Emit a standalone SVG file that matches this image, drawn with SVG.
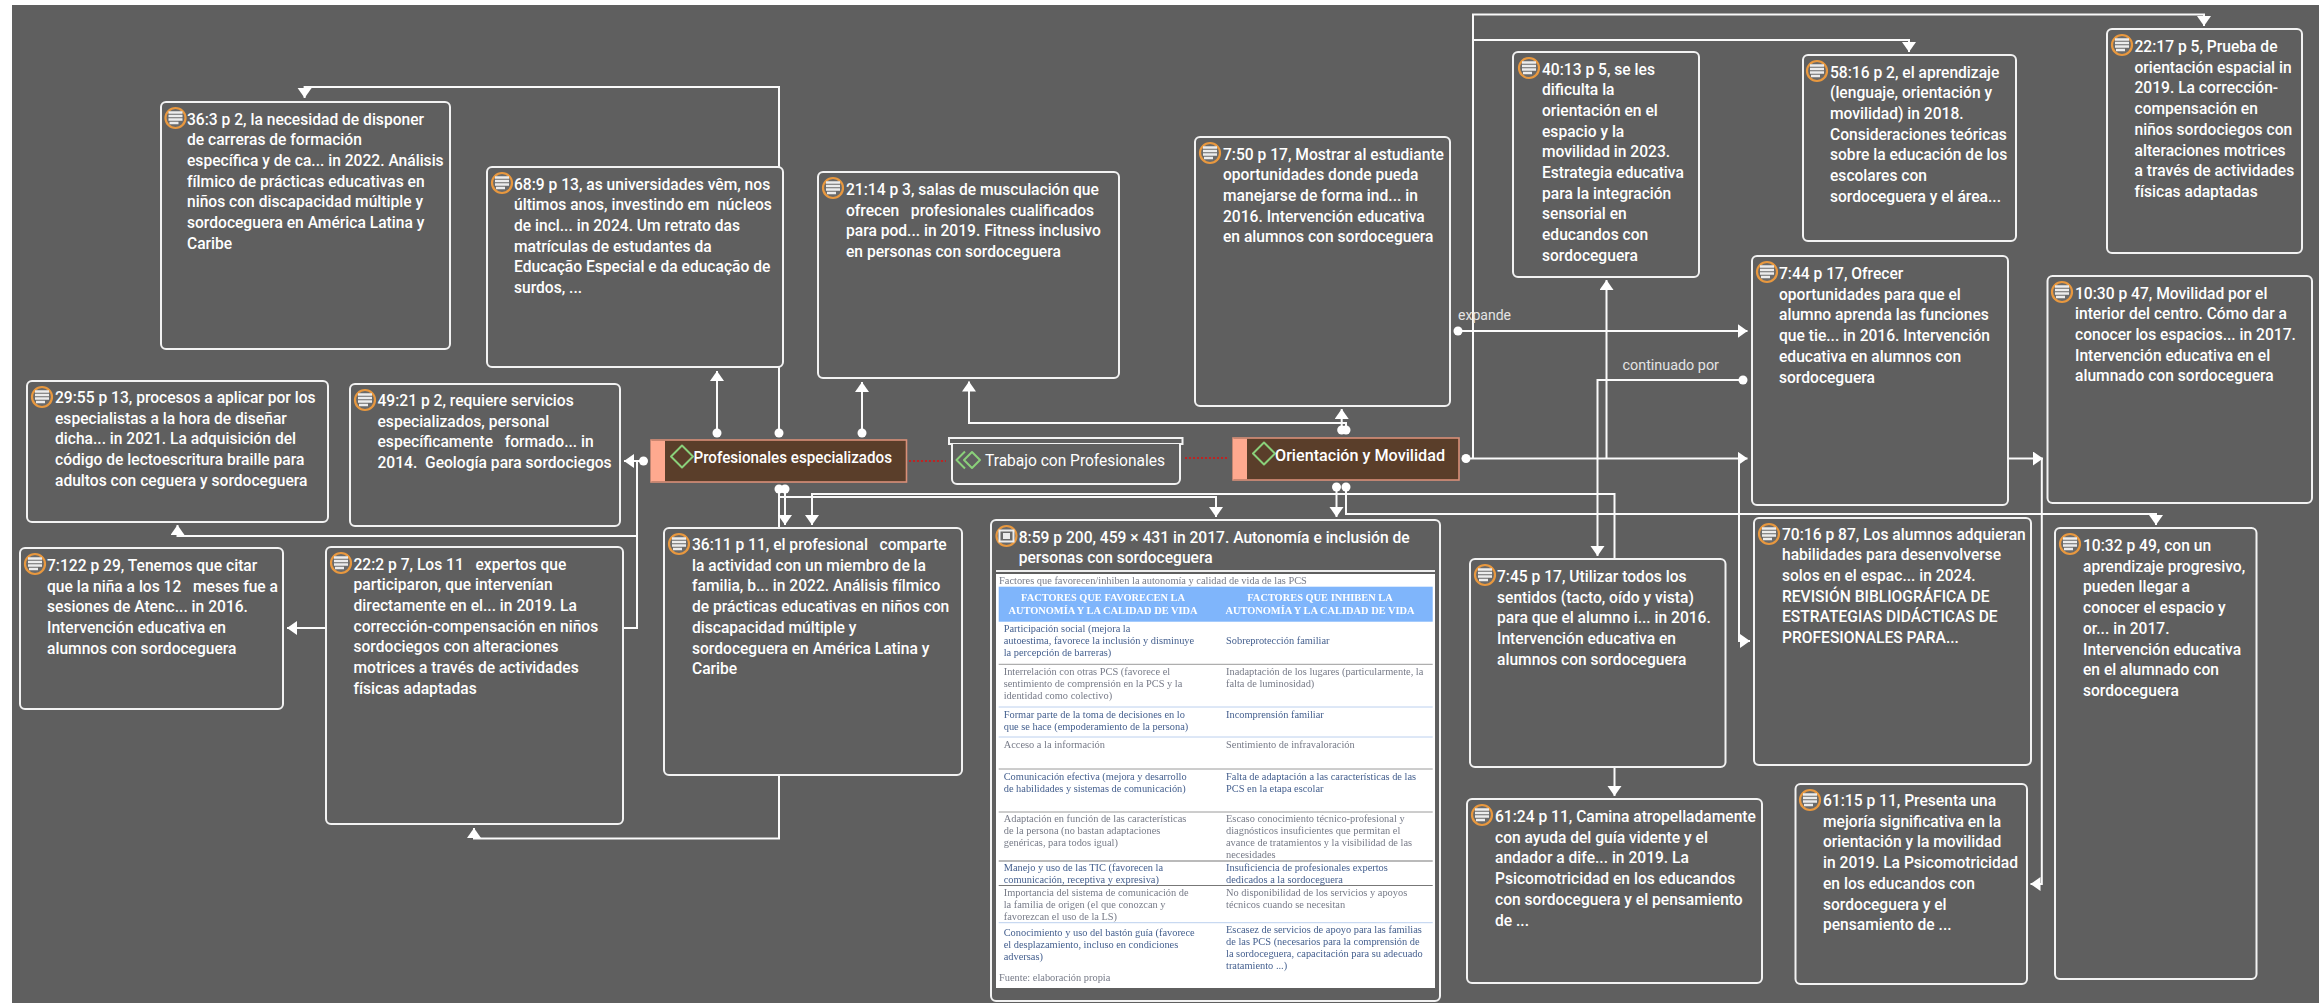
<svg xmlns="http://www.w3.org/2000/svg" width="2319" height="1003" viewBox="0 0 2319 1003">
<style>
.t{font-family:"Roboto","Liberation Sans",sans-serif;font-weight:500;font-size:15.6px;fill:#fff;white-space:pre}
.b{fill:#5f5f5f;stroke:#f2f2f2;stroke-width:2}
.c{fill:none;stroke:#fafafa;stroke-width:2}
.d{fill:#fff}
.l{font-family:"Roboto","Liberation Sans",sans-serif;font-size:14px;fill:#e4e4e4}
.code{fill:#5a3e2a;stroke:#d98f78;stroke-width:1.6}
.band{fill:#fea98f}
.g{fill:none;stroke:#8ad07a;stroke-width:2}
.n{font-family:"Roboto","Liberation Sans",sans-serif;font-weight:500;font-size:16px;fill:#fff}
.r{fill:none;stroke:#e01010;stroke-width:1.6;stroke-dasharray:2 2}
.tt{font-family:"Liberation Serif",serif;font-size:10.4px;fill:#777b88}
.tb{font-family:"Liberation Serif",serif;font-size:10.4px;fill:#45608f}
.th{font-family:"Liberation Serif",serif;font-weight:700;font-size:10.4px;fill:#fff;text-anchor:middle}
</style>
<defs>
<marker id="a" markerUnits="userSpaceOnUse" markerWidth="14" markerHeight="16" refX="10" refY="7" orient="auto"><path d="M0 0L10 7L0 14z" fill="#fff"/></marker>
<g id="doc"><circle r="10" fill="#6a6a6a" stroke="#e8983f" stroke-width="2.2"/><path d="M-7-5.500H7M-7-2H7M-7 1.500H7M-6 5H3" stroke="#ececec" stroke-width="2.400" fill="none"/></g>
<g id="pic"><circle r="10" fill="#6a6a6a" stroke="#e8983f" stroke-width="2.2"/><rect x="-7" y="-5.500" width="14" height="11" fill="none" stroke="#ececec" stroke-width="2"/><rect x="-3.500" y="-3" width="7" height="6" fill="#ececec"/></g>
<filter id="bl"><feGaussianBlur stdDeviation="0.45"/></filter>
</defs>
<rect width="2319" height="1003" fill="#fff"/>
<rect x="12" y="5" width="2307" height="998" fill="#5f5f5f"/>

<g id="connectors">
<path class="c" marker-end="url(#a)" d="M779 433V87H304.600V98"/>
<path class="c" marker-end="url(#a)" d="M717 433V371"/>
<path class="c" marker-end="url(#a)" d="M862 433V382"/>
<path class="c" marker-end="url(#a)" d="M643 461H624"/>
<path class="c" d="M637 461V628H623"/>
<path class="c" marker-end="url(#a)" d="M637 536H177.500V525"/>
<path class="c" marker-end="url(#a)" d="M326 628H287"/>
<path class="c" d="M779 489V528"/>
<path class="c" marker-end="url(#a)" d="M779 775V838.500H474V828"/>
<path class="c" marker-end="url(#a)" d="M785 489V525"/>
<path class="c" marker-end="url(#a)" d="M779 497H1216V517"/>
<path class="c" marker-end="url(#a)" d="M1614.500 559V494H812V525"/>
<path class="c" marker-end="url(#a)" d="M1614.500 767V796"/>
<path class="c" marker-end="url(#a)" d="M1336.500 487V517"/>
<path class="c" marker-end="url(#a)" d="M1346 487V514H2156V525"/>
<path class="c" marker-end="url(#a)" d="M1346 430V423H969V381.500"/>
<path class="c" marker-end="url(#a)" d="M1341.700 430V409"/>
<path class="c" marker-end="url(#a)" d="M1466 458.500H1747.500"/>
<path class="c" marker-end="url(#a)" d="M1473 458.500V14.500H2204V26"/>
<path class="c" marker-end="url(#a)" d="M1473 40H1909V52"/>
<path class="c" marker-end="url(#a)" d="M1606.500 458.500V280"/>
<path class="c" marker-end="url(#a)" d="M1739 458.500V641H1750"/>
<path class="c" marker-end="url(#a)" d="M1458 331H1747.500"/>
<path class="c" marker-end="url(#a)" d="M1743 380H1597.500V556"/>
<path class="c" marker-end="url(#a)" d="M2007.600 458.500H2043"/>
<path class="c" marker-end="url(#a)" d="M2041.800 458.500V884H2030.500"/>
<circle class="d" cx="717" cy="433" r="4.500"/><circle class="d" cx="779" cy="433" r="4.500"/><circle class="d" cx="862" cy="433" r="4.500"/>
<circle class="d" cx="643.500" cy="461" r="4.500"/>
<circle class="d" cx="779" cy="489" r="4.500"/><circle class="d" cx="785" cy="489" r="4.500"/>
<circle class="d" cx="1336.500" cy="487" r="4.500"/><circle class="d" cx="1346" cy="487" r="4.500"/>
<circle class="d" cx="1341.700" cy="430" r="4.500"/><circle class="d" cx="1346" cy="430" r="4.500"/>
<circle class="d" cx="1466" cy="458.500" r="4.500"/><circle class="d" cx="1458" cy="331" r="4.500"/><circle class="d" cx="1743" cy="380" r="4.500"/>
<path class="r" d="M909 461H946M1185 458H1228.500"/>
<text class="l" x="1458" y="320" textLength="53" lengthAdjust="spacingAndGlyphs">expande</text>
<text class="l" x="1622.500" y="370" textLength="96.500" lengthAdjust="spacingAndGlyphs">continuado por</text>
</g>

<g id="n36-3"><rect class="b" x="161" y="102" width="289" height="247" rx="5"/><use href="#doc" x="175.500" y="118"/><text class="t"><tspan x="187" y="124.500">36:3 p 2, la necesidad de disponer</tspan><tspan x="187" dy="20.700">de carreras de formación</tspan><tspan x="187" dy="20.700">específica y de ca... in 2022. Análisis</tspan><tspan x="187" dy="20.700">fílmico de prácticas educativas en</tspan><tspan x="187" dy="20.700">niños con discapacidad múltiple y</tspan><tspan x="187" dy="20.700">sordoceguera en América Latina y</tspan><tspan x="187" dy="20.700">Caribe</tspan></text></g>
<g id="n68-9"><rect class="b" x="487" y="167" width="296" height="200" rx="5"/><use href="#doc" x="502" y="183"/><text class="t"><tspan x="514" y="189.500">68:9 p 13, as universidades vêm, nos</tspan><tspan x="514" dy="20.700">últimos anos, investindo em  núcleos</tspan><tspan x="514" dy="20.700">de incl... in 2024. Um retrato das</tspan><tspan x="514" dy="20.700">matrículas de estudantes da</tspan><tspan x="514" dy="20.700">Educação Especial e da educação de</tspan><tspan x="514" dy="20.700">surdos, ...</tspan></text></g>
<g id="n29-55"><rect class="b" x="27" y="381" width="301" height="141" rx="5"/><use href="#doc" x="42" y="397"/><text class="t"><tspan x="55" y="403">29:55 p 13, procesos a aplicar por los</tspan><tspan x="55" dy="20.700">especialistas a la hora de diseñar</tspan><tspan x="55" dy="20.700">dicha... in 2021. La adquisición del</tspan><tspan x="55" dy="20.700">código de lectoescritura braille para</tspan><tspan x="55" dy="20.700">adultos con ceguera y sordoceguera</tspan></text></g>
<g id="n49-21"><rect class="b" x="350" y="384" width="270" height="142" rx="5"/><use href="#doc" x="365" y="400"/><text class="t"><tspan x="377.500" y="406">49:21 p 2, requiere servicios</tspan><tspan x="377.500" dy="20.700">especializados, personal</tspan><tspan x="377.500" dy="20.700">específicamente   formado... in</tspan><tspan x="377.500" dy="20.700">2014.  Geología para sordociegos</tspan></text></g>
<g id="n7-122"><rect class="b" x="20" y="548" width="263" height="161" rx="5"/><use href="#doc" x="35" y="564"/><text class="t"><tspan x="47" y="571">7:122 p 29, Tenemos que citar</tspan><tspan x="47" dy="20.700">que la niña a los 12   meses fue a</tspan><tspan x="47" dy="20.700">sesiones de Atenc... in 2016.</tspan><tspan x="47" dy="20.700">Intervención educativa en</tspan><tspan x="47" dy="20.700">alumnos con sordoceguera</tspan></text></g>
<g id="n22-2"><rect class="b" x="326" y="547" width="297" height="277" rx="5"/><use href="#doc" x="341" y="563"/><text class="t"><tspan x="353.500" y="569.500">22:2 p 7, Los 11   expertos que</tspan><tspan x="353.500" dy="20.700">participaron, que intervenían</tspan><tspan x="353.500" dy="20.700">directamente en el... in 2019. La</tspan><tspan x="353.500" dy="20.700">corrección-compensación en niños</tspan><tspan x="353.500" dy="20.700">sordociegos con alteraciones</tspan><tspan x="353.500" dy="20.700">motrices a través de actividades</tspan><tspan x="353.500" dy="20.700">físicas adaptadas</tspan></text></g>
<g id="n36-11"><rect class="b" x="664" y="528" width="298" height="247" rx="5"/><use href="#doc" x="679" y="544"/><text class="t"><tspan x="692" y="550">36:11 p 11, el profesional   comparte</tspan><tspan x="692" dy="20.700">la actividad con un miembro de la</tspan><tspan x="692" dy="20.700">familia, b... in 2022. Análisis fílmico</tspan><tspan x="692" dy="20.700">de prácticas educativas en niños con</tspan><tspan x="692" dy="20.700">discapacidad múltiple y</tspan><tspan x="692" dy="20.700">sordoceguera en América Latina y</tspan><tspan x="692" dy="20.700">Caribe</tspan></text></g>
<g id="n21-14"><rect class="b" x="818" y="172" width="301" height="206" rx="5"/><use href="#doc" x="833" y="188"/><text class="t"><tspan x="846" y="195">21:14 p 3, salas de musculación que</tspan><tspan x="846" dy="20.700">ofrecen   profesionales cualificados</tspan><tspan x="846" dy="20.700">para pod... in 2019. Fitness inclusivo</tspan><tspan x="846" dy="20.700">en personas con sordoceguera</tspan></text></g>
<g id="n7-50"><rect class="b" x="1195" y="137" width="255" height="269" rx="5"/><use href="#doc" x="1210" y="153"/><text class="t"><tspan x="1223" y="159.500">7:50 p 17, Mostrar al estudiante</tspan><tspan x="1223" dy="20.700">oportunidades donde pueda</tspan><tspan x="1223" dy="20.700">manejarse de forma ind... in</tspan><tspan x="1223" dy="20.700">2016. Intervención educativa</tspan><tspan x="1223" dy="20.700">en alumnos con sordoceguera</tspan></text></g>
<g id="n40-13"><rect class="b" x="1513" y="52" width="186" height="225" rx="5"/><use href="#doc" x="1529" y="68"/><text class="t"><tspan x="1542" y="74.500">40:13 p 5, se les</tspan><tspan x="1542" dy="20.700">dificulta la</tspan><tspan x="1542" dy="20.700">orientación en el</tspan><tspan x="1542" dy="20.700">espacio y la</tspan><tspan x="1542" dy="20.700">movilidad in 2023.</tspan><tspan x="1542" dy="20.700">Estrategia educativa</tspan><tspan x="1542" dy="20.700">para la integración</tspan><tspan x="1542" dy="20.700">sensorial en</tspan><tspan x="1542" dy="20.700">educandos con</tspan><tspan x="1542" dy="20.700">sordoceguera</tspan></text></g>
<g id="n58-16"><rect class="b" x="1803" y="55" width="213" height="186" rx="5"/><use href="#doc" x="1817" y="71"/><text class="t"><tspan x="1830" y="77.500">58:16 p 2, el aprendizaje</tspan><tspan x="1830" dy="20.700">(lenguaje, orientación y</tspan><tspan x="1830" dy="20.700">movilidad) in 2018.</tspan><tspan x="1830" dy="20.700">Consideraciones teóricas</tspan><tspan x="1830" dy="20.700">sobre la educación de los</tspan><tspan x="1830" dy="20.700">escolares con</tspan><tspan x="1830" dy="20.700">sordoceguera y el área...</tspan></text></g>
<g id="n22-17"><rect class="b" x="2107" y="29" width="195" height="224" rx="5"/><use href="#doc" x="2122" y="45"/><text class="t"><tspan x="2134.500" y="52">22:17 p 5, Prueba de</tspan><tspan x="2134.500" dy="20.700">orientación espacial in</tspan><tspan x="2134.500" dy="20.700">2019. La corrección-</tspan><tspan x="2134.500" dy="20.700">compensación en</tspan><tspan x="2134.500" dy="20.700">niños sordociegos con</tspan><tspan x="2134.500" dy="20.700">alteraciones motrices</tspan><tspan x="2134.500" dy="20.700">a través de actividades</tspan><tspan x="2134.500" dy="20.700">físicas adaptadas</tspan></text></g>
<g id="n7-44"><rect class="b" x="1752" y="256" width="256" height="249" rx="5"/><use href="#doc" x="1767" y="272"/><text class="t"><tspan x="1779" y="279">7:44 p 17, Ofrecer</tspan><tspan x="1779" dy="20.700">oportunidades para que el</tspan><tspan x="1779" dy="20.700">alumno aprenda las funciones</tspan><tspan x="1779" dy="20.700">que tie... in 2016. Intervención</tspan><tspan x="1779" dy="20.700">educativa en alumnos con</tspan><tspan x="1779" dy="20.700">sordoceguera</tspan></text></g>
<g id="n10-30"><rect class="b" x="2047.500" y="276" width="264.500" height="227" rx="5"/><use href="#doc" x="2062" y="292"/><text class="t"><tspan x="2075" y="298.500">10:30 p 47, Movilidad por el</tspan><tspan x="2075" dy="20.700">interior del centro. Cómo dar a</tspan><tspan x="2075" dy="20.700">conocer los espacios... in 2017.</tspan><tspan x="2075" dy="20.700">Intervención educativa en el</tspan><tspan x="2075" dy="20.700">alumnado con sordoceguera</tspan></text></g>
<g id="n7-45"><rect class="b" x="1470" y="559" width="255.500" height="208" rx="5"/><use href="#doc" x="1485" y="575"/><text class="t"><tspan x="1497" y="582">7:45 p 17, Utilizar todos los</tspan><tspan x="1497" dy="20.700">sentidos (tacto, oído y vista)</tspan><tspan x="1497" dy="20.700">para que el alumno i... in 2016.</tspan><tspan x="1497" dy="20.700">Intervención educativa en</tspan><tspan x="1497" dy="20.700">alumnos con sordoceguera</tspan></text></g>
<g id="n70-16"><rect class="b" x="1754" y="518" width="277" height="247" rx="5"/><use href="#doc" x="1769" y="534"/><text class="t"><tspan x="1782" y="539.500">70:16 p 87, Los alumnos adquieran</tspan><tspan x="1782" dy="20.700">habilidades para desenvolverse</tspan><tspan x="1782" dy="20.700">solos en el espac... in 2024.</tspan><tspan x="1782" dy="20.700">REVISIÓN BIBLIOGRÁFICA DE</tspan><tspan x="1782" dy="20.700">ESTRATEGIAS DIDÁCTICAS DE</tspan><tspan x="1782" dy="20.700">PROFESIONALES PARA...</tspan></text></g>
<g id="n10-32"><rect class="b" x="2055" y="528" width="201.500" height="451" rx="5"/><use href="#doc" x="2070" y="544"/><text class="t"><tspan x="2083" y="551">10:32 p 49, con un</tspan><tspan x="2083" dy="20.700">aprendizaje progresivo,</tspan><tspan x="2083" dy="20.700">pueden llegar a</tspan><tspan x="2083" dy="20.700">conocer el espacio y</tspan><tspan x="2083" dy="20.700">or... in 2017.</tspan><tspan x="2083" dy="20.700">Intervención educativa</tspan><tspan x="2083" dy="20.700">en el alumnado con</tspan><tspan x="2083" dy="20.700">sordoceguera</tspan></text></g>
<g id="n61-24"><rect class="b" x="1467" y="799" width="295" height="184" rx="5"/><use href="#doc" x="1482" y="815"/><text class="t"><tspan x="1495" y="822">61:24 p 11, Camina atropelladamente</tspan><tspan x="1495" dy="20.700">con ayuda del guía vidente y el</tspan><tspan x="1495" dy="20.700">andador a dife... in 2019. La</tspan><tspan x="1495" dy="20.700">Psicomotricidad en los educandos</tspan><tspan x="1495" dy="20.700">con sordoceguera y el pensamiento</tspan><tspan x="1495" dy="20.700">de ...</tspan></text></g>
<g id="n61-15"><rect class="b" x="1795.500" y="784" width="231.500" height="200" rx="5"/><use href="#doc" x="1810" y="800"/><text class="t"><tspan x="1823" y="806">61:15 p 11, Presenta una</tspan><tspan x="1823" dy="20.700">mejoría significativa en la</tspan><tspan x="1823" dy="20.700">orientación y la movilidad</tspan><tspan x="1823" dy="20.700">in 2019. La Psicomotricidad</tspan><tspan x="1823" dy="20.700">en los educandos con</tspan><tspan x="1823" dy="20.700">sordoceguera y el</tspan><tspan x="1823" dy="20.700">pensamiento de ...</tspan></text></g>

<g id="n8-59"><rect class="b" x="991" y="520" width="449" height="481" rx="5"/><use href="#pic" x="1006.500" y="536"/><text class="t"><tspan x="1018.700" y="542.500">8:59 p 200, 459 × 431 in 2017. Autonomía e inclusión de</tspan><tspan x="1018.700" dy="20.700">personas con sordoceguera</tspan></text>
<path d="M996 571H1435" stroke="#eee" stroke-width="2"/>
<rect x="996" y="574" width="439" height="414" fill="#fff"/>
<g filter="url(#bl)">
<rect x="998.700" y="586.700" width="434" height="35" fill="#7fb5fb"/>
<path d="M998.700 664.300H1432.700M998.700 769H1432.700M998.700 812H1432.700" stroke="#9a9a9a" stroke-width="1"/>
<path d="M998.700 707H1432.700M998.700 737H1432.700M998.700 922.700H1432.700" stroke="#bcd0ee" stroke-width="1"/>
<path d="M998.700 861H1432.700M998.700 885.500H1432.700" stroke="#777" stroke-width="1.200"/>
<text class="tt" x="999" y="583.500">Factores que favorecen/inhiben la autonomía y calidad de vida de las PCS</text>
<text class="th" x="1103" y="601">FACTORES QUE FAVORECEN LA</text><text class="th" x="1103" y="613.500">AUTONOMÍA Y LA CALIDAD DE VIDA</text>
<text class="th" x="1320" y="601">FACTORES QUE INHIBEN LA</text><text class="th" x="1320" y="613.500">AUTONOMÍA Y LA CALIDAD DE VIDA</text>
<text class="tb"><tspan x="1003.700" y="632">Participación social (mejora la</tspan><tspan x="1003.700" dy="12">autoestima, favorece la inclusión y disminuye</tspan><tspan x="1003.700" dy="12">la percepción de barreras)</tspan></text>
<text class="tb" x="1226" y="644">Sobreprotección familiar</text>
<text class="tt"><tspan x="1003.700" y="674.700">Interrelación con otras PCS (favorece el</tspan><tspan x="1003.700" dy="12">sentimiento de comprensión en la PCS y la</tspan><tspan x="1003.700" dy="12">identidad como colectivo)</tspan></text>
<text class="tt"><tspan x="1226" y="674.700">Inadaptación de los lugares (particularmente, la</tspan><tspan x="1226" dy="12">falta de luminosidad)</tspan></text>
<text class="tb"><tspan x="1003.700" y="717.500">Formar parte de la toma de decisiones en lo</tspan><tspan x="1003.700" dy="12">que se hace (empoderamiento de la persona)</tspan></text>
<text class="tb" x="1226" y="717.500">Incomprensión familiar</text>
<text class="tt" x="1003.700" y="748">Acceso a la información</text><text class="tt" x="1226" y="748">Sentimiento de infravaloración</text>
<text class="tb"><tspan x="1003.700" y="779.500">Comunicación efectiva (mejora y desarrollo</tspan><tspan x="1003.700" dy="12">de habilidades y sistemas de comunicación)</tspan></text>
<text class="tb"><tspan x="1226" y="779.500">Falta de adaptación a las características de las</tspan><tspan x="1226" dy="12">PCS en la etapa escolar</tspan></text>
<text class="tt"><tspan x="1003.700" y="822">Adaptación en función de las características</tspan><tspan x="1003.700" dy="12">de la persona (no bastan adaptaciones</tspan><tspan x="1003.700" dy="12">genéricas, para todos igual)</tspan></text>
<text class="tt"><tspan x="1226" y="822">Escaso conocimiento técnico-profesional y</tspan><tspan x="1226" dy="12">diagnósticos insuficientes que permitan el</tspan><tspan x="1226" dy="12">avance de tratamientos y la visibilidad de las</tspan><tspan x="1226" dy="12">necesidades</tspan></text>
<text class="tb"><tspan x="1003.700" y="871">Manejo y uso de las TIC (favorecen la</tspan><tspan x="1003.700" dy="12">comunicación, receptiva y expresiva)</tspan></text>
<text class="tb"><tspan x="1226" y="871">Insuficiencia de profesionales expertos</tspan><tspan x="1226" dy="12">dedicados a la sordoceguera</tspan></text>
<text class="tt"><tspan x="1003.700" y="896">Importancia del sistema de comunicación de</tspan><tspan x="1003.700" dy="12">la familia de origen (el que conozcan y</tspan><tspan x="1003.700" dy="12">favorezcan el uso de la LS)</tspan></text>
<text class="tt"><tspan x="1226" y="896">No disponibilidad de los servicios y apoyos</tspan><tspan x="1226" dy="12">técnicos cuando se necesitan</tspan></text>
<text class="tb"><tspan x="1003.700" y="935.500">Conocimiento y uso del bastón guía (favorece</tspan><tspan x="1003.700" dy="12">el desplazamiento, incluso en condiciones</tspan><tspan x="1003.700" dy="12">adversas)</tspan></text>
<text class="tb"><tspan x="1226" y="933">Escasez de servicios de apoyo para las familias</tspan><tspan x="1226" dy="12">de las PCS (necesarios para la comprensión de</tspan><tspan x="1226" dy="12">la sordoceguera, capacitación para su adecuado</tspan><tspan x="1226" dy="12">tratamiento ...)</tspan></text>
<text class="tt" x="999" y="981">Fuente: elaboración propia</text>
</g></g>

<g id="code-profesionales"><rect class="code" x="651" y="440" width="255.500" height="42"/><rect class="band" x="651" y="440.800" width="14" height="40.400"/><path class="g" stroke-linejoin="round" d="M682 445.500L693 456.500L682 467.500L671 456.500z"/><text class="n" x="693.500" y="463" textLength="198.500" lengthAdjust="spacingAndGlyphs">Profesionales especializados</text></g>
<g id="group-trabajo"><rect x="949" y="438" width="233.500" height="6" fill="#5f5f5f" stroke="#f2f2f2" stroke-width="2"/><path d="M952 444V479a5 5 0 0 0 5 5H1175a5 5 0 0 0 5-5V444" class="b"/><path class="g" stroke-linejoin="round" d="M972 452L980 460L972 468L964 460z M965 451.500L956.500 460L965 468.500"/><text class="n" style="font-weight:400" x="985" y="466" textLength="180" lengthAdjust="spacingAndGlyphs">Trabajo con Profesionales</text></g>
<g id="code-orientacion"><rect class="code" x="1233" y="438" width="226" height="42"/><rect class="band" x="1233" y="438.800" width="14" height="40.400"/><path class="g" stroke-linejoin="round" d="M1264 442.500L1275 453.500L1264 464.500L1253 453.500z"/><text class="n" x="1275" y="460.500" textLength="170" lengthAdjust="spacingAndGlyphs">Orientación y Movilidad</text></g>
</svg>
